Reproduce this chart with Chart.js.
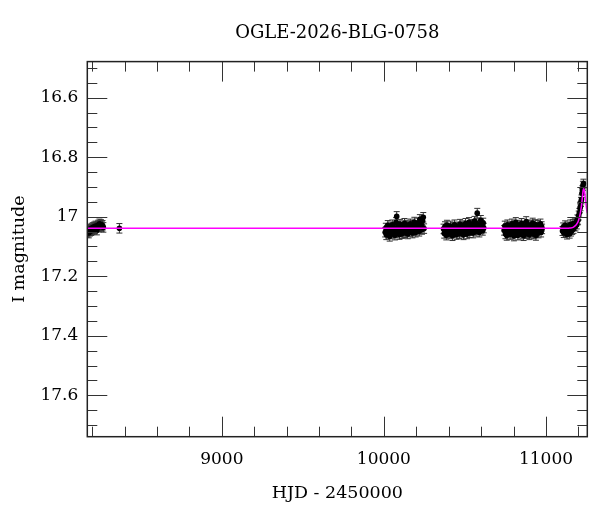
<!DOCTYPE html>
<html lang="en">
<head>
    <meta charset="UTF-8">
    <title>OGLE-2026-BLG-0758</title>
    <script src="https://cdn.jsdelivr.net/npm/chart.js"></script>
    <style>
        html, body { margin: 0; padding: 0; background: #fff; }
    </style>
</head>
<body>
    <canvas id="lcChart" width="600" height="512"></canvas>
    <script>
    // photometry (HJD - 2450000, I mag)
    var earlyHjd = [8171, 8175, 8179, 8183, 8186, 8190, 8194, 8198, 8202, 8206,
                    8210, 8213, 8217, 8221, 8225, 8229, 8233, 8237, 8241, 8245,
                    8249, 8254, 8259, 8264, 8269, 8368];
    var earlyMag = [17.052, 17.046, 17.055, 17.043, 17.049, 17.041, 17.047, 17.038, 17.044, 17.036,
                    17.042, 17.034, 17.040, 17.031, 17.037, 17.045, 17.033, 17.028, 17.035, 17.024,
                    17.030, 17.026, 17.033, 17.029, 17.036, 17.039];

    var s1Hjd = [10008, 10012, 10015, 10019, 10024, 10027, 10031, 10036, 10039, 10043,
                 10047, 10052, 10055, 10059, 10063, 10068, 10071, 10075, 10079, 10083,
                 10087, 10091, 10096, 10099, 10103, 10108, 10111, 10115, 10120, 10123,
                 10127, 10131, 10136, 10139, 10143, 10147, 10152, 10155, 10159, 10164,
                 10167, 10171, 10176, 10179, 10183, 10188, 10192, 10196, 10200, 10205,
                 10209, 10213, 10218, 10222, 10226, 10231, 10235, 10239, 10243, 10248];
    var s1Mag = [17.052, 17.038, 17.061, 17.045, 17.029, 17.056, 17.042, 17.066, 17.034, 17.049,
                 17.058, 17.027, 17.044, 17.053, 17.037, 17.062, 17.041, 17.019, 16.999, 17.055,
                 17.033, 17.046, 17.060, 17.025, 17.051, 17.039, 17.057, 17.043, 17.030, 17.049,
                 17.022, 17.054, 17.036, 17.046, 17.028, 17.058, 17.041, 17.033, 17.050, 17.024,
                 17.044, 17.037, 17.055, 17.029, 17.047, 17.018, 17.040, 17.052, 17.031, 17.045,
                 17.021, 17.038, 17.049, 17.009, 17.035, 17.027, 17.043, 17.014, 17.002, 17.040];

    var s2Hjd = [10368, 10372, 10377, 10381, 10385, 10389, 10394, 10398, 10402, 10406,
                 10411, 10415, 10419, 10423, 10428, 10432, 10436, 10440, 10445, 10449,
                 10453, 10457, 10462, 10466, 10470, 10474, 10479, 10483, 10487, 10491,
                 10496, 10500, 10504, 10508, 10513, 10517, 10521, 10525, 10530, 10534,
                 10538, 10542, 10547, 10551, 10555, 10559, 10564, 10568, 10572, 10576,
                 10581, 10585, 10589, 10593, 10598, 10602, 10606, 10610, 10613, 10616];
    var s2Mag = [17.041, 17.056, 17.033, 17.047, 17.062, 17.028, 17.050, 17.038, 17.058, 17.044,
                 17.031, 17.053, 17.046, 17.064, 17.036, 17.049, 17.027, 17.055, 17.042, 17.060,
                 17.034, 17.048, 17.039, 17.057, 17.025, 17.045, 17.052, 17.030, 17.043, 17.061,
                 17.037, 17.050, 17.022, 17.046, 17.058, 17.033, 17.041, 17.019, 17.054, 17.036,
                 17.047, 17.026, 17.043, 17.055, 17.031, 17.015, 17.039, 17.049, 17.023, 16.988,
                 17.044, 17.028, 17.052, 17.035, 17.012, 17.041, 17.030, 17.046, 17.021, 17.038];

    var s3Hjd = [10742, 10746, 10750, 10754, 10758, 10762, 10766, 10770, 10774, 10778,
                 10782, 10786, 10790, 10794, 10798, 10802, 10806, 10810, 10814, 10818,
                 10822, 10826, 10830, 10834, 10838, 10842, 10846, 10850, 10854, 10858,
                 10862, 10866, 10870, 10874, 10878, 10882, 10886, 10890, 10894, 10898,
                 10902, 10906, 10910, 10914, 10918, 10922, 10926, 10930, 10934, 10938,
                 10942, 10946, 10950, 10954, 10958, 10962, 10966, 10970, 10973, 10976];
    var s3Mag = [17.046, 17.031, 17.058, 17.040, 17.063, 17.027, 17.052, 17.037, 17.049, 17.060,
                 17.033, 17.045, 17.024, 17.056, 17.041, 17.065, 17.030, 17.048, 17.019, 17.054,
                 17.038, 17.062, 17.043, 17.028, 17.051, 17.036, 17.059, 17.022, 17.047, 17.040,
                 17.064, 17.032, 17.053, 17.045, 17.016, 17.057, 17.034, 17.049, 17.027, 17.061,
                 17.042, 17.055, 17.030, 17.046, 17.021, 17.058, 17.037, 17.050, 17.026, 17.063,
                 17.039, 17.048, 17.029, 17.055, 17.035, 17.044, 17.024, 17.052, 17.033, 17.041];

    var s4Hjd = [11102, 11106, 11110, 11114, 11118, 11122, 11126, 11130, 11134, 11138,
                 11142, 11146, 11150, 11154, 11158, 11162, 11166, 11170, 11174, 11178,
                 11182, 11186, 11190, 11194, 11198, 11202, 11206, 11210, 11213, 11216,
                 11219, 11222, 11225, 11228, 11231];
    var s4Mag = [17.048, 17.036, 17.055, 17.041, 17.029, 17.052, 17.044, 17.060, 17.033, 17.047,
                 17.039, 17.057, 17.026, 17.050, 17.035, 17.045, 17.024, 17.041, 17.031, 17.022,
                 17.033, 17.018, 17.026, 17.009, 17.012, 16.996, 16.987, 16.972, 16.965, 16.950,
                 16.942, 16.921, 16.911, 16.896, 16.889];

    // typical error bar half-length per group (early, s1, s2, s3, s4)
    var groupErr = [0.016, 0.016, 0.016, 0.016, 0.015];

    // microlensing model curve
    var modelHjd = [8170, 11120, 11150, 11170, 11185, 11198, 11208, 11216, 11222, 11226,
                    11229, 11233, 11238, 11244, 11250, 11255];
    var modelMag = [17.039, 17.039, 17.038, 17.035, 17.028, 17.017, 16.998, 16.975, 16.950, 16.928,
                    16.912, 16.906, 16.915, 16.945, 16.972, 16.988];

    var xMajorTicks = [9000, 10000, 11000];
    var xMinorTicks = [8200, 8400, 8600, 8800, 9200, 9400, 9600, 9800,
                       10200, 10400, 10600, 10800, 11200];
    var yMajorTicks = [16.6, 16.8, 17, 17.2, 17.4, 17.6];
    var yMinorTicks = [16.5, 16.55, 16.65, 16.7, 16.75, 16.85, 16.9, 16.95, 17.05, 17.1,
                       17.15, 17.25, 17.3, 17.35, 17.45, 17.5, 17.55, 17.65, 17.7];

    var groups = [[earlyHjd, earlyMag], [s1Hjd, s1Mag], [s2Hjd, s2Mag], [s3Hjd, s3Mag], [s4Hjd, s4Mag]];
    var obsPoints = [];
    groups.forEach(function (g, gi) {
        var n = Math.min(g[0].length, g[1].length);
        for (var i = 0; i < n; i++) {
            obsPoints.push({ x: g[0][i], y: g[1][i], e: groupErr[gi] });
        }
    });
    var modelPoints = modelHjd.map(function (t, i) { return { x: t, y: modelMag[i] }; });

    var serif = "'DejaVu Serif', 'Liberation Serif', serif";

    // error bars drawn under the markers
    var errorBars = {
        id: 'errorBars',
        beforeDatasetsDraw: function (chart) {
            var ctx = chart.ctx, xs = chart.scales.x, ys = chart.scales.y, a = chart.chartArea;
            ctx.save();
            ctx.beginPath();
            ctx.rect(a.left, a.top, a.right - a.left, a.bottom - a.top);
            ctx.clip();
            ctx.strokeStyle = '#333';
            ctx.lineWidth = 1;
            ctx.beginPath();
            obsPoints.forEach(function (p) {
                var px = xs.getPixelForValue(p.x);
                var y1 = ys.getPixelForValue(p.y - p.e);
                var y2 = ys.getPixelForValue(p.y + p.e);
                ctx.moveTo(px, y1); ctx.lineTo(px, y2);
                ctx.moveTo(px - 3, y1); ctx.lineTo(px + 3, y1);
                ctx.moveTo(px - 3, y2); ctx.lineTo(px + 3, y2);
            });
            ctx.stroke();
            ctx.restore();
        }
    };

    // box frame with inward ticks on all four sides
    var frameTicks = {
        id: 'frameTicks',
        afterDraw: function (chart) {
            var ctx = chart.ctx, xs = chart.scales.x, ys = chart.scales.y, a = chart.chartArea;
            var major = 20, minor = 10;
            ctx.save();
            ctx.strokeStyle = '#333';
            ctx.lineWidth = 1;
            ctx.beginPath();
            function xTick(v, len) {
                var px = Math.round(xs.getPixelForValue(v)) + 0.5;
                ctx.moveTo(px, a.bottom); ctx.lineTo(px, a.bottom - len);
                ctx.moveTo(px, a.top); ctx.lineTo(px, a.top + len);
            }
            function yTick(v, len) {
                var py = Math.round(ys.getPixelForValue(v)) + 0.5;
                ctx.moveTo(a.left, py); ctx.lineTo(a.left + len, py);
                ctx.moveTo(a.right, py); ctx.lineTo(a.right - len, py);
            }
            xMajorTicks.forEach(function (v) { xTick(v, major); });
            xMinorTicks.forEach(function (v) { xTick(v, minor); });
            yMajorTicks.forEach(function (v) { yTick(v, major); });
            yMinorTicks.forEach(function (v) { yTick(v, minor); });
            ctx.stroke();
            ctx.strokeStyle = '#222';
            ctx.lineWidth = 1.5;
            ctx.strokeRect(a.left, a.top, a.right - a.left, a.bottom - a.top);
            ctx.restore();
        }
    };

    var ctx = document.getElementById('lcChart').getContext('2d');
    var lcChart = new Chart(ctx, {
        type: 'scatter',
        data: {
            datasets: [{
                type: 'line',
                label: 'model',
                data: modelPoints,
                borderColor: '#ff00ff',
                borderWidth: 1.5,
                pointRadius: 0,
                fill: false,
                cubicInterpolationMode: 'monotone'
            }, {
                label: 'OGLE I',
                data: obsPoints,
                backgroundColor: '#000',
                borderWidth: 0,
                pointRadius: 2.8
            }]
        },
        options: {
            responsive: false,
            animation: false,
            layout: { padding: { left: 0, right: 12.7, top: 0, bottom: 0 } },
            plugins: {
                legend: { display: false },
                tooltip: { enabled: false },
                title: {
                    display: true,
                    text: 'OGLE-2026-BLG-0758',
                    fullSize: false,
                    color: '#000',
                    font: { family: serif, size: 18, weight: 'normal' },
                    padding: { top: 23, bottom: 17 }
                }
            },
            scales: {
                x: {
                    type: 'linear',
                    min: 8170,
                    max: 11255,
                    grid: { display: false, drawTicks: false },
                    border: { display: false },
                    afterBuildTicks: function (scale) {
                        scale.ticks = xMajorTicks.map(function (v) { return { value: v }; });
                    },
                    afterFit: function (scale) { scale.height = 75.3; },
                    ticks: {
                        autoSkip: false,
                        maxRotation: 0,
                        padding: 13,
                        color: '#000',
                        font: { family: serif, size: 17 },
                        callback: function (v) { return String(v); }
                    },
                    title: {
                        display: true,
                        text: 'HJD - 2450000',
                        color: '#000',
                        font: { family: serif, size: 17.5 },
                        padding: { top: 0, bottom: 8 }
                    }
                },
                y: {
                    type: 'linear',
                    reverse: true,
                    min: 16.479,
                    max: 17.739,
                    grid: { display: false, drawTicks: false },
                    border: { display: false },
                    afterBuildTicks: function (scale) {
                        scale.ticks = yMajorTicks.map(function (v) { return { value: v }; });
                    },
                    afterFit: function (scale) { scale.width = 87.3; },
                    ticks: {
                        autoSkip: false,
                        padding: 9,
                        color: '#000',
                        font: { family: serif, size: 17 },
                        callback: function (v) { return String(v); }
                    },
                    title: {
                        display: true,
                        text: 'I magnitude',
                        color: '#000',
                        font: { family: serif, size: 17.5 },
                        padding: { top: 9, bottom: 0 }
                    }
                }
            }
        },
        plugins: [errorBars, frameTicks]
    });
    </script>
</body>
</html>
